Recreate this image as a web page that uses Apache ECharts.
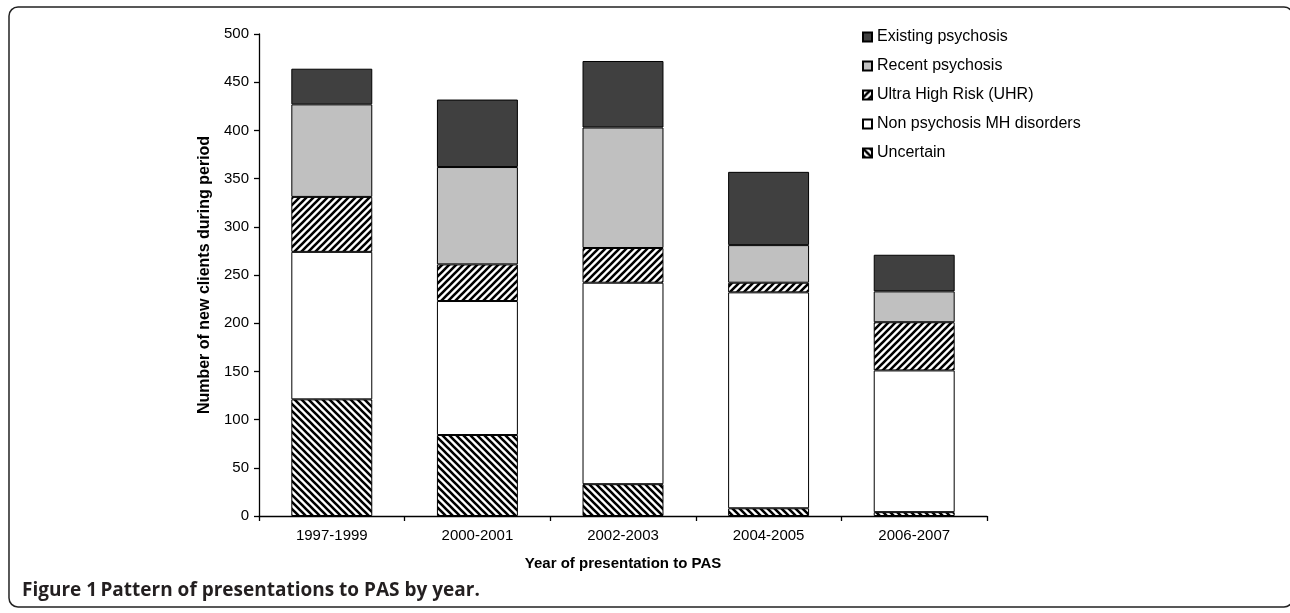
<!DOCTYPE html>
<html>
<head>
<meta charset="utf-8">
<script src="https://cdn.jsdelivr.net/npm/echarts@6/dist/echarts.min.js"></script>
<style>
html,body{margin:0;padding:0;background:#fff;}
#chart{width:1290px;height:613px;}
</style>
</head>
<body>
<div id="chart"></div>
<script>
// ---- data ----
const categories = ['1997-1999', '2000-2001', '2002-2003', '2004-2005', '2006-2007'];
const uncertain   = [121, 84, 33, 8, 4];
const nonPsychosis = [153, 139, 209, 224, 147];
const uhr         = [57, 38, 36, 10, 50];
const recent      = [96, 101, 125, 39, 32];
const existing    = [37, 70, 69, 76, 38];
const seriesNames = ['Existing psychosis', 'Recent psychosis', 'Ultra High Risk (UHR)', 'Non psychosis MH disorders', 'Uncertain'];
const yTicks = { min: 0, max: 500, interval: 50 };

function hatch(dir) {
  const s = 7;
  const c = document.createElement('canvas');
  c.width = s; c.height = s;
  const g = c.getContext('2d');
  g.fillStyle = '#fff';
  g.fillRect(0, 0, s, s);
  g.strokeStyle = '#000';
  g.lineWidth = 2.6;
  g.beginPath();
  if (dir === 'fwd') {
    g.moveTo(-1, s + 1); g.lineTo(s + 1, -1);
    g.moveTo(-1, 1); g.lineTo(1, -1);
    g.moveTo(s - 1, s + 1); g.lineTo(s + 1, s - 1);
  } else {
    g.moveTo(-1, -1); g.lineTo(s + 1, s + 1);
    g.moveTo(-1, s - 1); g.lineTo(1, s + 1);
    g.moveTo(s - 1, -1); g.lineTo(s + 1, 1);
  }
  g.stroke();
  return { image: c, repeat: 'repeat' };
}

const chart = echarts.init(document.getElementById('chart'), null, { renderer: 'canvas' });
const border = { borderColor: '#000', borderWidth: 1 };
function bar(name, data, color) {
  return {
    name: name, type: 'bar', stack: 'total', data: data,
    barWidth: '55.6%',
    itemStyle: Object.assign({ color: color }, border),
    emphasis: { disabled: true }
  };
}

chart.setOption({
  animation: false,
  backgroundColor: '#fff',
  textStyle: { fontFamily: 'Liberation Sans, Arial, sans-serif', color: '#000' },
  grid: { left: 259, top: 34, right: 303, bottom: 97, containLabel: false },
  legend: {
    orient: 'vertical', left: 857, top: 24,
    itemWidth: 9, itemHeight: 9, itemGap: 13, itemTextGap: 7,
    icon: 'rect',
    data: seriesNames,
    textStyle: { fontSize: 16, color: '#000', fontFamily: 'Liberation Sans, Arial, sans-serif' }
  },
  xAxis: {
    type: 'category', data: categories,
    name: 'Year of presentation to PAS', nameLocation: 'middle', nameGap: 40,
    nameTextStyle: { fontSize: 15, fontWeight: 'bold', color: '#000' },
    axisLine: { lineStyle: { color: '#000', width: 1.3 } },
    axisTick: { show: true, inside: false, length: 5, lineStyle: { color: '#000', width: 1.3 } },
    axisLabel: { fontSize: 15, color: '#000', margin: 12 },
    splitLine: { show: false }
  },
  yAxis: {
    type: 'value', min: yTicks.min, max: yTicks.max, interval: yTicks.interval,
    name: 'Number of new clients during period', nameLocation: 'middle', nameRotate: 90, nameGap: 44,
    nameTextStyle: { fontSize: 16, fontWeight: 'bold', color: '#000' },
    axisLine: { show: true, lineStyle: { color: '#000', width: 1.3 } },
    axisTick: { show: true, inside: false, length: 5, lineStyle: { color: '#000', width: 1.3 } },
    axisLabel: { fontSize: 15, color: '#000', margin: 10 },
    splitLine: { show: false }
  },
  series: [
    bar('Uncertain', uncertain, hatch('back')),
    bar('Non psychosis MH disorders', nonPsychosis, '#ffffff'),
    bar('Ultra High Risk (UHR)', uhr, hatch('fwd')),
    bar('Recent psychosis', recent, '#c0c0c0'),
    bar('Existing psychosis', existing, '#404040')
  ],
  graphic: [
    {
      type: 'rect', silent: true,
      shape: { x: 9, y: 7, width: 1284, height: 600, r: 9 },
      style: { fill: 'none', stroke: '#222', lineWidth: 1.5 }
    },
    {
      type: 'text', left: 22, top: 581, silent: true,
      style: {
        text: '{a|Figure 1} {b|Pattern of presentations to PAS by year.}',
        rich: {
          a: { fontFamily: 'Open Sans', fontWeight: 'bold', fontSize: 19, fill: '#231f20' },
          b: { fontFamily: 'Open Sans', fontWeight: 'bold', fontSize: 19, fill: '#231f20' }
        }
      }
    }
  ]
});
</script>
</body>
</html>
